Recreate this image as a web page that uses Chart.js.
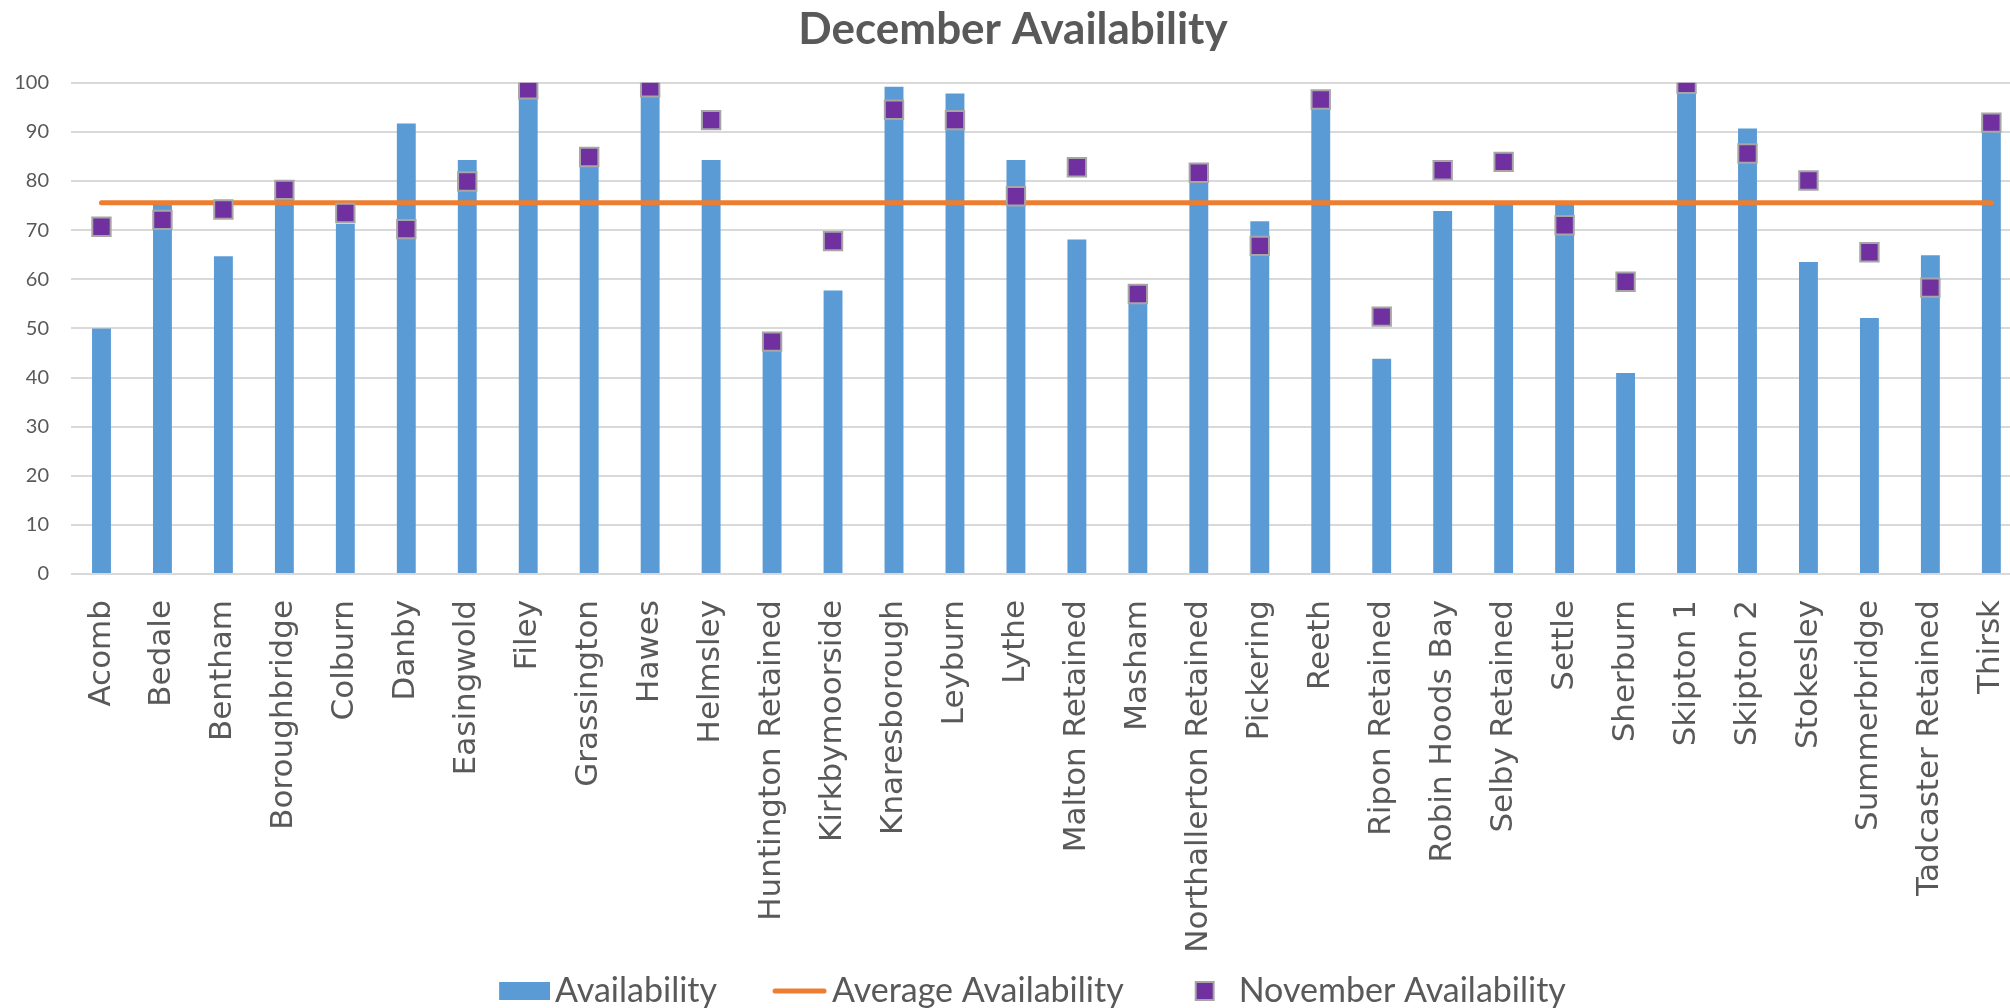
<!DOCTYPE html>
<html>
<head>
<meta charset="utf-8">
<script src="https://cdn.jsdelivr.net/npm/chart.js@4/dist/chart.umd.min.js"></script>
<style>
  html, body { margin: 0; padding: 0; background: #fff; overflow: hidden; }
  #wrap { width: 2055px; height: 1018px; }
</style>
</head>
<body>
<div id="wrap"><canvas id="availability" width="2055" height="1018"></canvas></div>
<script>
const categories = ['Acomb', 'Bedale', 'Bentham', 'Boroughbridge', 'Colburn', 'Danby', 'Easingwold', 'Filey',
    'Grassington', 'Hawes', 'Helmsley', 'Huntington Retained', 'Kirkbymoorside', 'Knaresborough', 'Leyburn',
    'Lythe', 'Malton Retained', 'Masham', 'Northallerton Retained', 'Pickering', 'Reeth', 'Ripon Retained',
    'Robin Hoods Bay', 'Selby Retained', 'Settle', 'Sherburn', 'Skipton 1', 'Skipton 2', 'Stokesley',
    'Summerbridge', 'Tadcaster Retained', 'Thirsk']

const availability = [50, 75.8, 64.7, 77, 71.3, 91.7, 84.3, 97, 83, 98, 84.3, 46, 57.7, 99.2, 97.8, 84.3,
    68.1, 55, 80, 71.8, 95, 43.8, 73.9, 75.5, 75.5, 40.9, 98, 90.7, 63.5, 52.1, 64.9, 90]

const average_availability = [75.6, 75.6, 75.6, 75.6, 75.6, 75.6, 75.6, 75.6, 75.6, 75.6, 75.6, 75.6, 75.6,
    75.6, 75.6, 75.6, 75.6, 75.6, 75.6, 75.6, 75.6, 75.6, 75.6, 75.6, 75.6, 75.6, 75.6, 75.6, 75.6, 75.6,
    75.6, 75.6]

const november_availability = [70.7, 72.1, 74.2, 78.2, 73.5, 70.2, 79.9, 98.7, 84.9, 99.1, 92.4, 47.3, 67.8,
    94.5, 92.4, 76.9, 82.8, 57, 81.7, 66.8, 96.6, 52.4, 82.2, 83.9, 71, 59.5, 99.8, 85.6, 80.1, 65.5, 58.3, 91.9]

const seriesNames = ['Availability', 'Average Availability', 'November Availability']
const yTicks = [0, 10, 20, 30, 40, 50, 60, 70, 80, 90, 100]

const textGrey = '#595959'
const blue = '#5B9BD5'
const orange = '#ED7D31'
const purple = '#7030A0'

// legend keys: canvases wider than the key slot, the visible key sits at the right end
const keyW = 102
function legendIcon(draw) {
    const c = document.createElement('canvas')
    c.width = keyW
    c.height = 20
    draw(c.getContext('2d'))
    return c
}
const legendIcons = [
    legendIcon(ctx => { ctx.fillStyle = blue; ctx.fillRect(keyW - 51, 1, 51, 18) }),
    legendIcon(ctx => {
        ctx.strokeStyle = orange; ctx.lineWidth = 5; ctx.lineCap = 'round'
        ctx.beginPath(); ctx.moveTo(keyW - 52, 10); ctx.lineTo(keyW - 3, 10); ctx.stroke()
    }),
    legendIcon(ctx => {
        ctx.fillStyle = '#A6A6A6'; ctx.fillRect(keyW - 39, 0, 20, 20)
        ctx.fillStyle = purple; ctx.fillRect(keyW - 37, 2, 16, 16)
    })
]

const ctx = document.getElementById('availability').getContext('2d')

new Chart(ctx, {
    type: 'bar',
    data: {
        labels: categories,
        datasets: [{
            label: seriesNames[0],
            data: availability,
            backgroundColor: blue,
            borderWidth: 0,
            categoryPercentage: 1,
            barPercentage: 0.31,
            order: 3
        }, {
            type: 'line',
            label: seriesNames[1],
            data: average_availability,
            borderColor: orange,
            borderWidth: 5,
            borderCapStyle: 'round',
            pointRadius: 0,
            fill: false,
            order: 2
        }, {
            type: 'line',
            label: seriesNames[2],
            data: november_availability,
            showLine: false,
            pointStyle: 'rect',
            pointRadius: 13,
            pointBorderWidth: 2,
            pointBackgroundColor: purple,
            pointBorderColor: '#A6A6A6',
            order: 1
        }]
    },
    options: {
        responsive: false,
        animation: false,
        layout: {
            padding: { left: 0, right: 29, top: 0, bottom: 0 }
        },
        scales: {
            x: {
                grid: { display: false, drawTicks: false },
                border: { display: false },
                ticks: {
                    color: textGrey,
                    font: { family: 'DejaVu Sans', size: 31 },
                    minRotation: 90,
                    maxRotation: 90,
                    autoSkip: false,
                    padding: 26
                },
                afterFit: scale => { scale.height = 380 }
            },
            y: {
                min: 0,
                max: 100,
                afterBuildTicks: scale => { scale.ticks = yTicks.map(v => ({ value: v })) },
                grid: { color: '#D9D9D9', lineWidth: 2, drawTicks: false },
                border: { display: false },
                ticks: {
                    color: textGrey,
                    font: { family: 'Lato', size: 20 },
                    padding: 22
                },
                afterFit: scale => { scale.width = 71 }
            }
        },
        plugins: {
            legend: {
                position: 'bottom',
                labels: {
                    usePointStyle: true,
                    pointStyleWidth: 78,
                    boxHeight: 18,
                    padding: 20,
                    color: textGrey,
                    font: { family: 'Lato', size: 34 },
                    generateLabels: chart => seriesNames.map((name, i) => ({
                        text: name,
                        pointStyle: legendIcons[i],
                        datasetIndex: i,
                        hidden: false,
                        fontColor: textGrey,
                        fillStyle: 'transparent',
                        strokeStyle: 'transparent',
                        lineWidth: 0
                    }))
                }
            },
            title: {
                display: true,
                text: 'December Availability',
                color: textGrey,
                font: { family: 'Lato', size: 44, weight: 'bold' },
                padding: { top: 3, bottom: 27 }
            },
            tooltip: { enabled: false }
        }
    }
});
</script>
</body>
</html>
